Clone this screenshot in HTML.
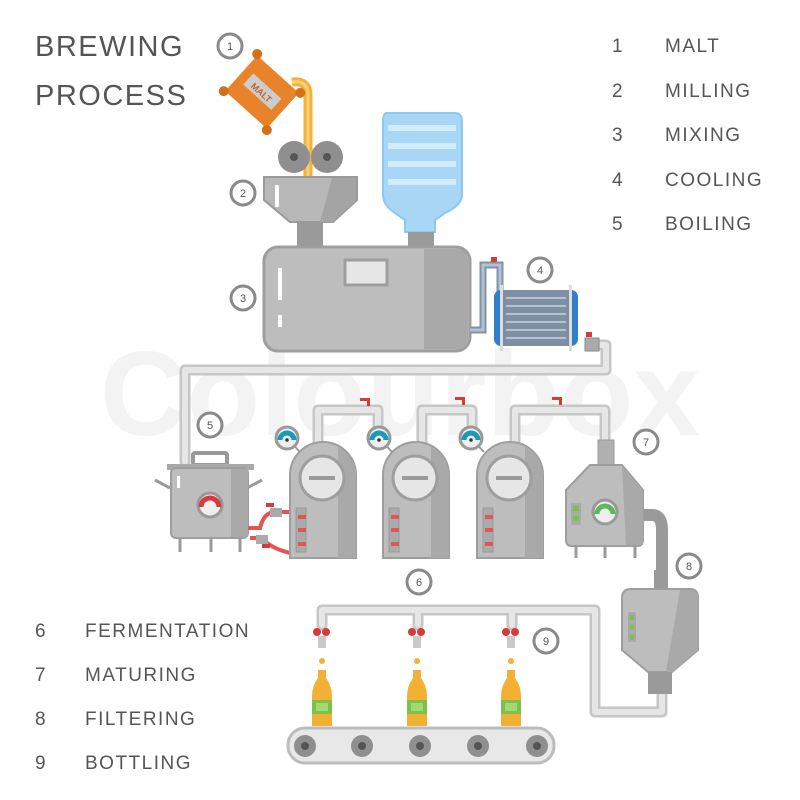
<!DOCTYPE html>
<html><head><meta charset="utf-8"><style>
html,body{margin:0;padding:0;background:#fff}
svg{display:block}
text{font-family:"Liberation Sans",sans-serif;fill:#555}
</style></head><body>
<svg width="800" height="800" viewBox="0 0 800 800" xmlns="http://www.w3.org/2000/svg">
<defs>
<g id="circ"><circle r="12" fill="#fff" stroke="#8a8a8a" stroke-width="3"/></g>
</defs>
<!-- watermark -->
<text x="400" y="435" text-anchor="middle" font-size="120" font-weight="bold" style="fill:#f3f3f3">Colourbox</text>

<!-- Titles -->
<text x="35" y="56" font-size="29" letter-spacing="1.5">BREWING</text>
<text x="35" y="105" font-size="29" letter-spacing="1.5">PROCESS</text>
<g font-size="19" letter-spacing="1.5">
<text x="612" y="52">1</text><text x="665" y="52">MALT</text>
<text x="612" y="97">2</text><text x="665" y="97">MILLING</text>
<text x="612" y="141">3</text><text x="665" y="141">MIXING</text>
<text x="612" y="186">4</text><text x="665" y="186">COOLING</text>
<text x="612" y="230">5</text><text x="665" y="230">BOILING</text>
<text x="35" y="637">6</text><text x="85" y="637">FERMENTATION</text>
<text x="35" y="681">7</text><text x="85" y="681">MATURING</text>
<text x="35" y="725">8</text><text x="85" y="725">FILTERING</text>
<text x="35" y="769">9</text><text x="85" y="769">BOTTLING</text>
</g>

<!-- big pipes -->
<g fill="none" stroke-linejoin="round" stroke-linecap="round">
<path d="M598 345 H606 V370 H185 V462" stroke="#c6c6c6" stroke-width="11"/>
<path d="M598 345 H606 V370 H185 V462" stroke="#e6e6e6" stroke-width="6"/>
<path d="M318 445 V410 H378 V445 M422 445 V410 H472 V445 M515 445 V410 H605 V440" stroke="#c6c6c6" stroke-width="11"/>
<path d="M318 445 V410 H378 V445 M422 445 V410 H472 V445 M515 445 V410 H605 V440" stroke="#e6e6e6" stroke-width="6"/>
<path d="M322 625 V610 H595 V712 H662 V690 M418 625 V610 M512 625 V610" stroke="#c6c6c6" stroke-width="11"/>
<path d="M322 625 V610 H595 V712 H662 V690 M418 625 V610 M512 625 V610" stroke="#e6e6e6" stroke-width="6"/>
<path d="M643 515 H652 Q662 515 662 530 V588" stroke="#9a9a9a" stroke-width="12"/>
</g>
<!-- red valves on top pipes -->
<g fill="#d63a3a">
<rect x="360" y="398" width="10" height="3"/><rect x="367" y="398" width="3" height="8"/>
<rect x="455" y="397" width="10" height="3"/><rect x="462" y="397" width="3" height="8"/>
<rect x="552" y="397" width="10" height="3"/><rect x="559" y="397" width="3" height="8"/>
</g>

<!-- malt pour -->
<path d="M292 82 Q308 80 308 95 V176" fill="none" stroke="#f3b13e" stroke-width="9"/>
<path d="M292 82 Q308 80 308 95 V176" fill="none" stroke="#fbd174" stroke-width="3"/>
<g transform="translate(262,92) rotate(42)">
<rect x="-28" y="-24" width="56" height="48" rx="4" fill="#e8832a"/>
<circle cx="-29" cy="-25" r="5" fill="#d4701a"/><circle cx="29" cy="-25" r="5" fill="#d4701a"/>
<circle cx="-29" cy="25" r="5" fill="#d4701a"/><circle cx="29" cy="25" r="5" fill="#d4701a"/>
<rect x="-19" y="-8" width="38" height="15" fill="#ccc"/>
<text x="0" y="4" text-anchor="middle" font-size="9" font-weight="bold" style="fill:#c0632a">MALT</text>
</g>
<!-- rollers -->
<circle cx="294" cy="157" r="16" fill="#8f8f8f"/><circle cx="294" cy="157" r="4" fill="#555"/>
<circle cx="327" cy="157" r="16" fill="#8f8f8f"/><circle cx="327" cy="157" r="4" fill="#555"/>
<!-- hopper -->
<path d="M264 177 H357 V200 L333 222 H290 L264 200Z" fill="#b8b8b8" stroke="#9a9a9a" stroke-width="2"/>
<path d="M332 178 H356 V200 L333 222 H320Z" fill="#a4a4a4"/>
<rect x="275" y="185" width="4" height="22" fill="#fff"/>
<rect x="297" y="222" width="26" height="25" fill="#9a9a9a"/>
<!-- water bottle -->
<path d="M387 113 H455 Q462 113 462 122 V195 Q462 205 445 213 L435 220 V232 H405 V220 L395 213 Q383 205 383 195 V122 Q383 113 387 113Z" fill="#a7d7f5" stroke="#8cc8ef" stroke-width="2"/>
<g fill="#d3ecfb"><rect x="388" y="125" width="68" height="6"/><rect x="388" y="143" width="68" height="6"/><rect x="388" y="161" width="68" height="6"/><rect x="388" y="179" width="68" height="6"/></g>
<rect x="408" y="232" width="26" height="16" fill="#9a9a9a"/>
<!-- mixer tank -->
<rect x="264" y="247" width="206" height="104" rx="14" fill="#bdbdbd" stroke="#9e9e9e" stroke-width="3"/>
<path d="M424 249 H456 Q468 249 468 262 V336 Q468 349 456 349 H424Z" fill="#a9a9a9"/>
<rect x="345" y="260" width="42" height="25" fill="#e6e6e6" stroke="#9e9e9e" stroke-width="3"/>
<rect x="278" y="268" width="4" height="32" fill="#fff"/><rect x="278" y="315" width="4" height="12" fill="#fff"/>
<!-- cooler pipe -->
<path d="M470 330 H483 V265 H500 V295" fill="none" stroke="#7f93aa" stroke-width="7"/>
<path d="M470 330 H483 V265 H500 V295" fill="none" stroke="#b3c1d0" stroke-width="3"/>
<rect x="491" y="257" width="6" height="5" fill="#d63a3a"/>
<!-- cooler -->
<rect x="494" y="290" width="84" height="56" rx="7" fill="#2e7fc7"/>
<rect x="502" y="290" width="68" height="56" fill="#7f8fa3"/>
<g fill="none" stroke="#b3c1d0" stroke-width="2"><path d="M506 298 H566 M506 306 H566 M506 314 H566 M506 322 H566 M506 330 H566 M506 338 H566"/></g>
<rect x="500" y="285" width="3" height="66" fill="#ddd"/><rect x="569" y="285" width="3" height="66" fill="#ddd"/>
<rect x="585" y="338" width="14" height="13" fill="#aaa" stroke="#888"/>
<rect x="586" y="332" width="6" height="5" fill="#d63a3a"/>

<!-- boiling pot -->
<rect x="193" y="453" width="34" height="12" rx="2" fill="none" stroke="#9a9a9a" stroke-width="4"/>
<path d="M155 480 L170 488 M262 480 L247 488" stroke="#9a9a9a" stroke-width="3"/>
<rect x="167" y="464" width="87" height="6" fill="#a9a9a9"/>
<rect x="171" y="468" width="77" height="70" rx="5" fill="#bdbdbd" stroke="#9e9e9e" stroke-width="2"/>
<rect x="231" y="469" width="17" height="68" fill="#a9a9a9"/>
<rect x="177" y="476" width="3" height="12" fill="#fff"/>
<circle cx="210" cy="505" r="12" fill="#eee" stroke="#999" stroke-width="3"/>
<path d="M201 507 A9 9 0 0 1 219 507" fill="none" stroke="#d63a3a" stroke-width="5"/>
<g stroke="#9a9a9a" stroke-width="3"><path d="M180 538 V552 M211 538 V552 M240 538 V552"/></g>
<!-- red hoses -->
<path d="M248 528 H260 Q264 512 275 512 H292 M250 538 H262 Q270 548 290 553" fill="none" stroke="#e05555" stroke-width="4"/>
<rect x="270" y="508" width="12" height="9" fill="#aaa"/><rect x="256" y="535" width="12" height="9" fill="#aaa"/>
<rect x="266" y="503" width="8" height="4" fill="#d63a3a"/><rect x="262" y="544" width="8" height="4" fill="#d63a3a"/>

<!-- fermenters -->
<g id="ferm">
<path d="M290 558 V475 A33 33 0 0 1 356 475 V558Z" fill="#bdbdbd" stroke="#9e9e9e" stroke-width="2"/>
<path d="M338 447 A33 33 0 0 1 356 475 V558 H338Z" fill="#a9a9a9"/>
<circle cx="322" cy="478" r="22" fill="#e6e6e6" stroke="#9e9e9e" stroke-width="3"/>
<rect x="309" y="476" width="26" height="4" fill="#9a9a9a"/>
<rect x="296" y="508" width="10" height="44" fill="#aaa" stroke="#999"/>
<g fill="#e05555"><rect x="298" y="515" width="8" height="4"/><rect x="298" y="528" width="8" height="4"/><rect x="298" y="542" width="8" height="4"/></g>
</g>
<use href="#ferm" x="93"/>
<use href="#ferm" x="187"/>
<!-- gauges -->
<g id="gauge">
<line x1="287" y1="438" x2="300" y2="452" stroke="#9a9a9a" stroke-width="2"/>
<circle cx="287" cy="438" r="11" fill="#eee" stroke="#999" stroke-width="3"/>
<path d="M280 440 A7 7 0 0 1 294 440" fill="none" stroke="#1a9bb5" stroke-width="5"/>
<circle cx="287" cy="440" r="1.8" fill="#333"/>
</g>
<use href="#gauge" x="92"/>
<use href="#gauge" x="184"/>

<!-- maturing tank 7 -->
<rect x="598" y="440" width="16" height="25" fill="#b0b0b0" stroke="#999"/>
<path d="M566 490 L590 465 H622 L643 490 V540 Q643 546 637 546 H572 Q566 546 566 540Z" fill="#bdbdbd" stroke="#9e9e9e" stroke-width="2"/>
<path d="M622 466 L643 490 V545 H626Z" fill="#a9a9a9"/>
<rect x="571" y="503" width="10" height="22" fill="#aaa"/>
<g fill="#7cc24a"><rect x="573" y="506" width="6" height="5"/><rect x="573" y="516" width="6" height="5"/></g>
<circle cx="605" cy="512" r="12" fill="#eee" stroke="#999" stroke-width="3"/>
<path d="M597 514 A8 8 0 0 1 613 514" fill="none" stroke="#5cb85c" stroke-width="5"/>
<g stroke="#9a9a9a" stroke-width="3"><path d="M576 546 V558 M605 546 V558 M635 546 V558"/></g>

<!-- filter 8 -->
<rect x="654" y="570" width="14" height="20" fill="#9a9a9a"/>
<path d="M622 598 Q622 589 631 589 H690 Q698 589 698 598 V650 L672 672 H648 L622 650Z" fill="#bdbdbd" stroke="#9e9e9e" stroke-width="2"/>
<path d="M680 590 H690 Q698 590 698 598 V650 L672 672 H666Z" fill="#a9a9a9"/>
<rect x="648" y="672" width="24" height="22" fill="#9a9a9a"/>
<rect x="628" y="612" width="8" height="30" fill="#aaa"/>
<g fill="#7cc24a"><rect x="630" y="615" width="4" height="5"/><rect x="630" y="625" width="4" height="5"/><rect x="630" y="635" width="4" height="5"/></g>

<!-- nozzles & bottles -->
<g id="noz">
<circle cx="317" cy="632" r="4" fill="#d63a3a"/><circle cx="326" cy="632" r="4" fill="#d63a3a"/>
<rect x="318" y="636" width="8" height="12" fill="#c9c9c9"/>
<circle cx="322" cy="661" r="3" fill="#f2b134"/>
<path d="M318 670 H326 V678 Q332 686 332 696 V726 H312 V696 Q312 686 318 678Z" fill="#f2b134"/>
<rect x="312" y="700" width="20" height="14" fill="#7cc24a"/>
<rect x="316" y="703" width="12" height="8" fill="#a6d872"/>
</g>
<use href="#noz" x="95"/>
<use href="#noz" x="189"/>

<!-- conveyor -->
<rect x="288" y="728" width="266" height="35" rx="17" fill="#e8e8e8" stroke="#bcbcbc" stroke-width="3"/>
<g fill="#8f8f8f"><circle cx="305" cy="746" r="11"/><circle cx="362" cy="746" r="11"/><circle cx="420" cy="746" r="11"/><circle cx="478" cy="746" r="11"/><circle cx="537" cy="746" r="11"/></g>
<g fill="#555"><circle cx="305" cy="746" r="4"/><circle cx="362" cy="746" r="4"/><circle cx="420" cy="746" r="4"/><circle cx="478" cy="746" r="4"/><circle cx="537" cy="746" r="4"/></g>

<!-- number circles -->
<g font-size="11" text-anchor="middle">
<use href="#circ" x="230" y="46"/><text x="230" y="50">1</text>
<use href="#circ" x="243" y="193"/><text x="243" y="197">2</text>
<use href="#circ" x="243" y="298"/><text x="243" y="302">3</text>
<use href="#circ" x="540" y="270"/><text x="540" y="274">4</text>
<use href="#circ" x="210" y="425"/><text x="210" y="429">5</text>
<use href="#circ" x="419" y="582"/><text x="419" y="586">6</text>
<use href="#circ" x="646" y="442"/><text x="646" y="446">7</text>
<use href="#circ" x="689" y="566"/><text x="689" y="570">8</text>
<use href="#circ" x="546" y="641"/><text x="546" y="645">9</text>
</g>
</svg>
</body></html>
